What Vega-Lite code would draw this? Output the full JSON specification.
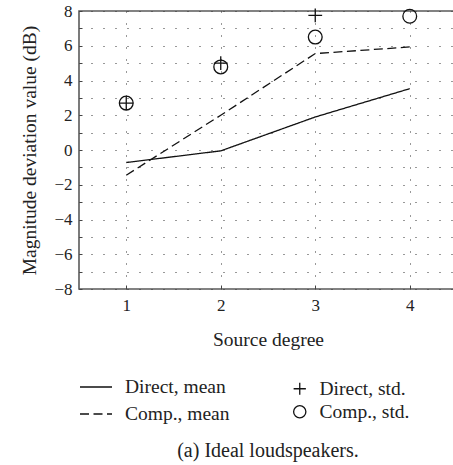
{
  "$schema": "https://vega.github.io/schema/vega-lite/v6.json",
  "width": 378,
  "height": 278,
  "padding": {"left": 19, "top": 2, "right": 0, "bottom": 5},
  "data": {
    "values": [
      {"deg": 1, "series": "Direct, mean", "value": -0.72},
      {"deg": 2, "series": "Direct, mean", "value": -0.05},
      {"deg": 3, "series": "Direct, mean", "value": 1.9},
      {"deg": 4, "series": "Direct, mean", "value": 3.53},
      {"deg": 1, "series": "Comp., mean", "value": -1.45},
      {"deg": 2, "series": "Comp., mean", "value": 2.0},
      {"deg": 3, "series": "Comp., mean", "value": 5.55},
      {"deg": 4, "series": "Comp., mean", "value": 5.93},
      {"deg": 1, "series": "Direct, std.", "value": 2.7},
      {"deg": 2, "series": "Direct, std.", "value": 5.0},
      {"deg": 3, "series": "Direct, std.", "value": 7.75},
      {"deg": 1, "series": "Comp., std.", "value": 2.7},
      {"deg": 2, "series": "Comp., std.", "value": 4.78},
      {"deg": 3, "series": "Comp., std.", "value": 6.5},
      {"deg": 4, "series": "Comp., std.", "value": 7.7}
    ]
  },
  "title": {
    "text": "(a) Ideal loudspeakers.",
    "orient": "bottom",
    "anchor": "middle",
    "font": "Times New Roman, Liberation Serif, serif",
    "fontSize": 20,
    "fontWeight": "normal",
    "color": "#222",
    "offset": 17
  },
  "encoding": {
    "x": {
      "field": "deg",
      "type": "quantitative",
      "scale": {"domain": [0.5, 4.5], "nice": false, "zero": false},
      "axis": {
        "title": "Source degree",
        "values": [1, 2, 3, 4],
        "format": "d",
        "domain": false,
        "tickSize": -4,
        "tickColor": "#444",
        "labelPadding": 12,
        "titlePadding": 17,
        "gridDash": [1, 11],
        "gridColor": "#333",
        "gridOpacity": 1
      }
    },
    "y": {
      "field": "value",
      "type": "quantitative",
      "scale": {"domain": [-8, 8], "nice": false},
      "axis": {
        "title": "Magnitude deviation value (dB)",
        "values": [-8, -7, -6, -5, -4, -3, -2, -1, 0, 1, 2, 3, 4, 5, 6, 7, 8],
        "labelExpr": "datum.value % 2 == 0 ? replace(datum.label, '-', '−') : ''",
        "domain": false,
        "tickSize": -3,
        "tickColor": "#444",
        "labelPadding": 10,
        "titlePadding": 14,
        "gridDash": [1, 11],
        "gridColor": "#333",
        "gridOpacity": 1
      }
    }
  },
  "layer": [
    {
      "transform": [{"filter": "indexof(datum.series, 'mean') >= 0"}],
      "mark": {"type": "line", "color": "#111", "strokeWidth": 1.3},
      "encoding": {
        "detail": {"field": "series"},
        "strokeDash": {
          "field": "series",
          "type": "nominal",
          "scale": {"domain": ["Direct, mean", "Comp., mean"], "range": [[1, 0], [9, 4.5]]},
          "legend": {
            "title": null,
            "orient": "none",
            "legendX": 0,
            "legendY": 359,
            "symbolSize": 1024,
            "symbolStrokeWidth": 1.3,
            "symbolStrokeColor": "#111",
            "labelOffset": 12,
            "rowPadding": -11
          }
        }
      }
    },
    {
      "transform": [{"filter": "indexof(datum.series, 'std') >= 0"}],
      "mark": {"type": "point", "filled": false, "color": "#111", "strokeWidth": 1.3, "opacity": 1},
      "encoding": {
        "shape": {
          "field": "series",
          "type": "nominal",
          "scale": {"domain": ["Direct, std.", "Comp., std."], "range": ["M-1,0L1,0M0,-1L0,1", "circle"]},
          "legend": {
            "title": null,
            "orient": "none",
            "legendX": 211,
            "legendY": 368,
            "symbolSize": 150,
            "symbolStrokeWidth": 1.3,
            "symbolStrokeColor": "#111",
            "labelOffset": 10,
            "rowPadding": 2
          }
        },
        "size": {"value": 190}
      }
    }
  ],
  "config": {
    "font": "Times New Roman, Liberation Serif, serif",
    "view": {"stroke": "#5a5a5a", "strokeWidth": 1.6},
    "axis": {
      "labelFont": "Times New Roman, Liberation Serif, serif",
      "labelFontSize": 17,
      "labelColor": "#222",
      "titleFont": "Times New Roman, Liberation Serif, serif",
      "titleFontSize": 19.5,
      "titleFontWeight": "normal",
      "titleColor": "#222"
    },
    "legend": {
      "labelFont": "Times New Roman, Liberation Serif, serif",
      "labelFontSize": 19.5,
      "labelColor": "#222"
    }
  }
}
